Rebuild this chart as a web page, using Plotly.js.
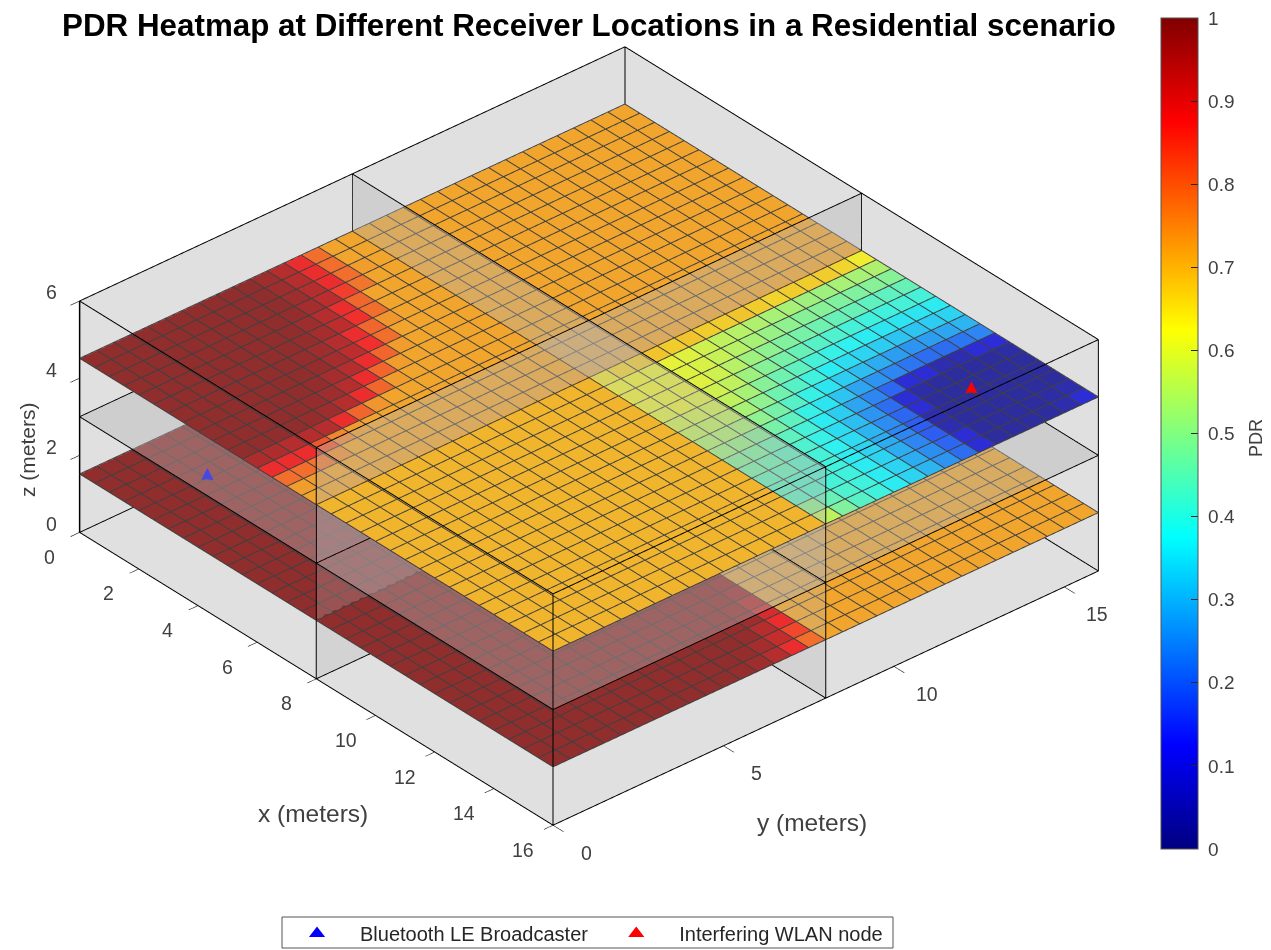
<!DOCTYPE html>
<html><head><meta charset="utf-8"><script src="https://cdn.plot.ly/plotly-3.0.0.min.js"></script></head>
<body style="margin:0;background:#fff"><div id="g" style="width:1271px;height:950px"></div>
<script>
// cell edges along x and y (metres)
const edges=[0,0.5,1,1.5,2,2.5,3,3.5,4,4.5,5,5.5,6,6.5,7,7.5,8,8.5,9,9.5,10,10.5,11,11.5,12,12.5,13,13.5,14,14.5,15,15.5,16];
const roomX=[0,8,16], roomY=[0,8,16], roomZ=[0,3,6];
const floorZ=[1.5,4.5];
const xTicks=[0,2,4,6,8,10,12,14,16], yTicks=[0,5,10,15], zTicks=[0,2,4,6];
const barTicks=[0,0.1,0.2,0.3,0.4,0.5,0.6,0.7,0.8,0.9,1];
const barLabels=['0','0.1','0.2','0.3','0.4','0.5','0.6','0.7','0.8','0.9','1'];
const broadcaster={x:[2],y:[2],z:[1.5]}, wlan={x:[14],y:[14],z:[4.5]};

// PDR in percent. Rows run along x, columns along y.
const upperNearRoom=[
[100,100,100,100,100,100,100,100,100,100,98,95,88,79,72,72],
[100,100,100,100,100,100,100,100,100,100,98,95,88,79,72,72],
[100,100,100,100,100,100,100,100,100,100,98,95,88,79,73,72],
[100,100,100,100,100,100,100,100,100,99,97,94,85,78,72,72],
[100,100,100,100,100,100,100,100,100,98,95,88,80,72,72,72],
[100,100,100,100,100,100,100,100,99,97,94,87,79,72,72,72],
[100,100,100,100,100,100,100,99,98,95,88,80,74,72,72,72],
[100,100,100,100,100,100,100,99,97,94,87,79,72,72,72,72],
[100,100,100,100,100,100,99,97,95,88,80,73,72,72,72,72],
[100,100,100,100,100,99,98,95,88,80,73,72,72,72,72,72],
[100,100,100,100,99,98,95,88,80,73,72,72,72,72,72,72],
[96,96,95,95,95,88,80,74,72,72,72,72,72,72,72,72],
[88,88,88,82,76,73,72,72,72,72,72,72,72,72,72,72],
[79,79,78,75,72,72,72,72,72,72,72,72,72,72,72,72],
[73,73,72,72,72,72,72,72,72,72,72,72,72,72,72,72],
[72,72,72,72,72,72,72,72,72,72,72,72,72,72,72,72]];
const upperBackRoom=72, upperFrontRoom=70;
const upperInterferedRoom=[
[64,66,67,68,67,68,67,67,68,67,66,67,67,67,66,63],
[62,62,61,61,60,58,56,55,54,53,53,52,52,53,53,54],
[62,62,61,60,59,57,55,53,51,50,49,49,48,48,49,49],
[61,61,61,60,58,55,52,50,48,47,46,45,45,44,44,45],
[60,61,60,58,56,52,49,47,45,43,42,41,40,40,41,41],
[58,58,58,56,53,49,46,44,41,39,38,37,36,36,36,37],
[56,56,56,53,50,46,43,40,37,35,34,33,32,32,33,34],
[54,54,53,50,47,43,39,36,33,31,29,27,26,27,28,30],
[52,51,49,47,44,39,36,32,28,26,24,22,21,21,22,24],
[49,48,46,44,41,37,33,28,24,20,9,9,4,4,9,9],
[47,46,44,42,39,35,31,26,21,9,3,2,2,2,2,3],
[45,45,43,41,38,35,30,25,20,9,2,2,2,2,2,2],
[44,43,42,40,37,34,29,24,19,4,2,2,2,2,2,2],
[44,43,41,40,37,34,29,24,19,4,2,2,2,2,2,2],
[50,45,42,40,37,34,29,25,20,9,2,2,2,2,3,4],
[56,48,43,40,37,34,30,26,21,9,2,2,2,2,4,9]];
const lowerNearRoom=100, lowerBackRoom=72, lowerFarRoom=72;
const lowerFrontRoom=[
[100,100,100,100,100,100,100,100,100,100,100,100,100,100,100,100],
[100,100,100,100,100,100,100,100,100,100,100,100,100,100,100,100],
[100,100,100,100,100,100,100,100,100,100,100,100,100,100,100,100],
[100,100,100,100,100,100,100,100,100,100,100,100,100,100,100,100],
[100,100,100,100,100,100,100,100,100,100,100,100,100,100,100,100],
[100,100,100,100,100,100,100,100,100,100,100,100,100,100,100,100],
[100,100,100,100,100,100,100,100,100,100,100,100,100,100,100,100],
[100,100,100,100,100,100,100,100,100,100,100,100,100,100,100,100],
[100,100,100,100,100,100,100,100,100,100,100,100,100,100,100,100],
[100,100,100,100,100,100,100,100,100,100,100,100,100,100,100,99],
[100,100,100,100,100,100,100,100,100,100,100,100,100,100,100,98],
[100,100,100,100,100,100,100,100,100,100,100,100,100,100,99,95],
[100,100,100,100,100,100,100,100,100,100,100,100,100,99,98,91],
[100,100,100,100,100,100,100,100,100,100,100,100,100,99,95,88],
[100,100,100,100,100,100,100,100,100,100,100,100,99,97,93,84],
[100,100,100,100,100,100,100,100,100,100,100,99,98,95,88,79]];

const jetStops=[[0,'rgb(0,0,128)'],[0.125,'rgb(0,0,255)'],[0.375,'rgb(0,255,255)'],[0.625,'rgb(255,255,0)'],[0.875,'rgb(255,0,0)'],[1,'rgb(128,0,0)']];
// the same scale seen as a semi-opaque sheet over the light grey box
const veiled=jetStops.map(([t,c])=>{const m=c.match(/\d+/g).map(v=>Math.round(+v*0.77+45));return [t,`rgb(${m})`];});

const row=(v)=>Array(16).fill(v);
const upperFloor=[...upperNearRoom.map(r=>[...r,...row(upperBackRoom)]),...upperInterferedRoom.map(r=>[...row(upperFrontRoom),...r])];
const lowerFloor=[...Array(16).fill(0).map(()=>[...row(lowerNearRoom),...row(lowerBackRoom)]),...lowerFrontRoom.map(r=>[...r,...row(lowerFarRoom)])];

const flat={ambient:1,diffuse:0,specular:0,fresnel:0,roughness:1};
function sheet(values,z){
  const n=edges.length,x=[],y=[],zz=[],i=[],j=[],k=[],c=[];
  edges.forEach(a=>edges.forEach(b=>{x.push(a);y.push(b);zz.push(z);}));
  values.forEach((r,p)=>r.forEach((v,q)=>{
    const A=p*n+q,B=(p+1)*n+q,C=(p+1)*n+q+1,D=p*n+q+1;
    i.push(A,A);j.push(B,C);k.push(C,D);c.push(v/100,v/100);
  }));
  return {type:'mesh3d',x,y,z:zz,i,j,k,intensity:c,intensitymode:'cell',cmin:0,cmax:1,colorscale:veiled,showscale:false,flatshading:true,lighting:flat,hoverinfo:'skip',showlegend:false};
}
function gridLines(z){
  const x=[],y=[],zz=[],lift=z+0.015;
  edges.forEach(a=>{x.push(a,a,null);y.push(edges[0],edges[32],null);zz.push(lift,lift,null);});
  edges.forEach(b=>{x.push(edges[0],edges[32],null);y.push(b,b,null);zz.push(lift,lift,null);});
  return {type:'scatter3d',mode:'lines',x,y,z:zz,line:{color:'#404040',width:2},hoverinfo:'skip',showlegend:false};
}
function boxLines(){
  const x=[],y=[],z=[];
  roomX.forEach(a=>roomY.forEach(b=>{
    if(a===roomX[1]&&b===roomY[1])return;   // no post where the two partitions cross
    x.push(a,a,null);y.push(b,b,null);z.push(roomZ[0],roomZ[2],null);
  }));
  roomZ.forEach(c=>{
    roomX.forEach(a=>{x.push(a,a,null);y.push(roomY[0],roomY[2],null);z.push(c,c,null);});
    roomY.forEach(b=>{x.push(roomX[0],roomX[2],null);y.push(b,b,null);z.push(c,c,null);});
  });
  return {type:'scatter3d',mode:'lines',x,y,z,line:{color:'#000',width:2},hoverinfo:'skip',showlegend:false};
}
const cornerLine={type:'scatter3d',mode:'lines',x:[roomX[0],roomX[0]],y:[roomY[0],roomY[0]],z:[roomZ[0],roomZ[2]],line:{color:'#000',width:3},hoverinfo:'skip',showlegend:false};
function pane(x,y,z,opacity){
  return {type:'mesh3d',x,y,z,i:[0,0],j:[1,2],k:[2,3],color:'rgb(179,179,179)',opacity,flatshading:true,lighting:flat,hoverinfo:'skip',showlegend:false};
}
const [x0,x1,x2]=roomX,[y0,y1,y2]=roomY,[z0,z1,z2]=roomZ;
function node(p,color){
  return {type:'scatter3d',mode:'text',x:p.x,y:p.y,z:p.z.map(v=>v+0.03),text:['▲'],textposition:'middle center',textfont:{size:36,color},hoverinfo:'skip',showlegend:false};
}
function key(name,color){
  return {type:'scatter',x:[null],y:[null],mode:'markers',name,marker:{symbol:'triangle-up',size:14,color}};
}
// the legend reserves room below the plot, leaving a paper area this tall
const paperH=914;
const paperY=py=>1-py/paperH;
const bar={type:'scatter',x:[null],y:[null],mode:'markers',showlegend:false,marker:{color:[0],cmin:0,cmax:1,colorscale:jetStops,showscale:true,
  colorbar:{thickness:37,thicknessmode:'pixels',len:831,lenmode:'pixels',x:1161/1271,xanchor:'left',xpad:0,y:paperY(18),yanchor:'top',ypad:0,
  outlinecolor:'#555',outlinewidth:1,ticks:'inside',ticklen:7,tickcolor:'#262626',tickvals:barTicks,ticktext:barLabels.map(s=>'\u00a0'+s),tickfont:{family:'Liberation Sans',size:19,color:'#404040'}}}};

const axisStyle=(vals,range,len)=>({range,tickvals:vals,showticklabels:false,ticks:'outside',ticklen:len,tickwidth:1.5,tickcolor:'#262626',
  showgrid:false,zeroline:false,showline:true,linecolor:'#000',linewidth:1,
  showbackground:true,backgroundcolor:'rgb(224,224,224)',showspikes:false,title:{text:''}});
const txt=(text,px,py,size,extra)=>Object.assign({text,x:px/1271,y:paperY(py),xref:'paper',yref:'paper',xanchor:'center',yanchor:'middle',showarrow:false,font:{family:'Liberation Sans',size,color:'#404040'}},extra||{});
const tickFont={family:'Liberation Sans',size:19.5,color:'#404040'};
const tick=(x,y,z,text,xshift,yshift)=>({x,y,z,text:String(text),showarrow:false,xanchor:'center',yanchor:'middle',xshift,yshift,font:tickFont});

const data=[sheet(lowerFloor,floorZ[0]),sheet(upperFloor,floorZ[1]),gridLines(floorZ[0]),gridLines(floorZ[1]),boxLines(),cornerLine,
 pane([x0,x2,x2,x0],[y0,y0,y2,y2],[z1,z1,z1,z1],0.4),
 pane([x1,x1,x1,x1],[y0,y2,y2,y0],[z1,z1,z2,z2],0.37),
 pane([x0,x2,x2,x0],[y1,y1,y1,y1],[z1,z1,z2,z2],0.37),
 pane([x1,x1,x1,x1],[y0,y2,y2,y0],[z0,z0,z1,z1],0.28),
 pane([x0,x2,x2,x0],[y1,y1,y1,y1],[z0,z0,z1,z1],0.28),
 node(broadcaster,'#0000ff'),node(wlan,'#ff0000'),
 key('Bluetooth LE Broadcaster','#0000ff'),key('Interfering WLAN node','#ff0000'),bar];
const layout={width:1271,height:950,margin:{l:0,r:0,t:0,b:0},paper_bgcolor:'#fff',showlegend:true,
 title:{text:'<b>PDR Heatmap at Different Receiver Locations in a Residential scenario</b>',x:589/1271,xanchor:'center',y:1-25/950,yanchor:'middle',font:{family:'Liberation Sans',size:31.35,color:'#000'}},
 xaxis:{visible:false},yaxis:{visible:false},
 legend:{orientation:'h',x:274/1271,xanchor:'left',yref:'container',y:1-914/950,yanchor:'top',itemwidth:76,borderwidth:0,bgcolor:'rgba(0,0,0,0)',font:{family:'Liberation Sans',size:20,color:'#262626'}},
 shapes:[{type:'rect',xref:'paper',yref:'paper',x0:282/1271,x1:893/1271,y0:paperY(948),y1:paperY(917),line:{color:'#555',width:1}}],
 scene:{domain:{x:[0,1178/1271],y:[0.0476,0.9973]},aspectmode:'manual',aspectratio:{x:1.664,y:1.664,z:0.632},
  camera:{projection:{type:'orthographic'},eye:{x:2.548,y:-2.212,z:2.148},up:{x:0,y:0,z:1},center:{x:0,y:0,z:0}},
  xaxis:axisStyle(xTicks,[0,16],16),yaxis:axisStyle(yTicks,[0,16],12),zaxis:axisStyle(zTicks,[0,6],12),
  annotations:[...xTicks.map(v=>tick(v,roomY[0],roomZ[0],v,-30,-24)),...yTicks.map(v=>tick(roomX[2],v,roomZ[0],v,33,-27)),...zTicks.map(v=>tick(roomX[0],roomY[0],v,v,-28,9))]},
 annotations:[txt('x (meters)',313,813,24.5),txt('y (meters)',812,822,24.5),txt('z (meters)',27,450,21,{textangle:-90}),txt('PDR',1256,438,18,{textangle:-90})]};
Plotly.newPlot('g',data,layout,{displayModeBar:false});
</script></body></html>
